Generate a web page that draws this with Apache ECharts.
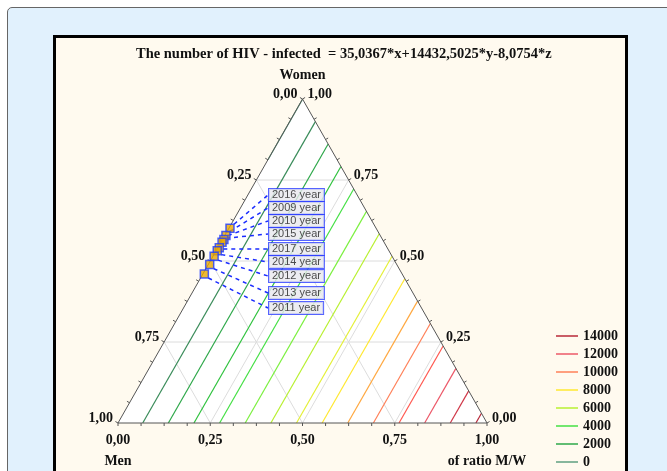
<!DOCTYPE html>
<html>
<head>
<meta charset="utf-8">
<script src="https://cdn.jsdelivr.net/npm/echarts@6/dist/echarts.min.js"></script>
<style>
html, body { margin: 0; padding: 0; width: 667px; height: 471px; overflow: hidden; background: #fff; }
.outer { position: absolute; left: 7px; top: 7px; width: 720px; height: 520px; background: #e1f1fd; border: 1.5px solid #666; border-radius: 5px; }
.inner { position: absolute; left: 53px; top: 35px; width: 569px; height: 500px; background: #fffaef; border: 3px solid #000; }
#chart { position: absolute; left: 0; top: 0; width: 667px; height: 471px; }
</style>
</head>
<body>
<div class="outer"></div>
<div class="inner"></div>
<div id="chart"></div>
<script>
// points (ternary: women share, ratio M/W share; men = 1 - women - ratio)
const years = ["2016 year", "2009 year", "2010 year", "2015 year", "2017 year", "2014 year", "2012 year", "2013 year", "2011 year"];
const women = [0.601, 0.579, 0.566, 0.558, 0.541, 0.532, 0.515, 0.489, 0.460];
const ratioMW = [0.003, 0.003, 0.004, 0.003, 0.004, 0.003, 0.003, 0.004, 0.004];
// title equation: 35,0367*x + 14432,5025*y - 8,0754*z  (x = men, y = ratio M/W, z = women)
const coefMen = 35.0367;
const coefRatio = 14432.5025;
const coefWomen = -8.0754;
// contour levels
const levels = [0, 1000, 2000, 3000, 4000, 5000, 6000, 7000, 8000, 9000, 10000, 11000, 12000, 13000, 14000];
const legendLevels = ["14000", "12000", "10000", "8000", "6000", "4000", "2000", "0"];
// axis ticks
const majorTicks = [0, 0.25, 0.5, 0.75, 1];
const tickLabels = ["0,00", "0,25", "0,50", "0,75", "1,00"];
const minorTicks = [0, 0.0625, 0.125, 0.1875, 0.25, 0.3125, 0.375, 0.4375, 0.5, 0.5625, 0.625, 0.6875, 0.75, 0.8125, 0.875, 0.9375, 1];

const levelColors = ["#5f9f80", "#3a8c5a", "#2ea84a", "#2fc23e", "#44e044", "#7cf040", "#b8f030", "#e4f038", "#ffe830",
  "#ffa840", "#ff8058", "#ff5850", "#ec5868", "#d03848", "#b82838"];
const labelY = [195, 208, 221, 234, 249, 262, 276, 293, 308];

// ternary (ratio, women) -> plane coords
const toXY = (r, w) => [r + w / 2, w];

// contour of the linear surface clipped to the triangle
function contour(c) {
  const pts = [];
  const rb = (c - coefMen) / (coefRatio - coefMen); // bottom edge, women = 0
  if (rb >= 0 && rb <= 1) pts.push(toXY(rb, 0));
  const wl = (c - coefMen) / (coefWomen - coefMen); // left edge, ratio = 0
  if (wl >= 0 && wl <= 1) pts.push(toXY(0, wl));
  const rr = (c - coefWomen) / (coefRatio - coefWomen); // right edge, men = 0
  if (rr >= 0 && rr <= 1) pts.push(toXY(rr, 1 - rr));
  return pts.length >= 2 ? pts.slice(0, 2) : [];
}

const gridSeries = [];
[0.25, 0.5, 0.75].forEach((t) => {
  gridSeries.push([toXY(0, t), toXY(1 - t, t)]);
  gridSeries.push([toXY(t, 0), toXY(t, 1 - t)]);
  gridSeries.push([toXY(1 - t, 0), toXY(0, 1 - t)]);
});

const serif = '"Liberation Serif", "Times New Roman", serif';
const axisLabels = [];
majorTicks.forEach((t, i) => {
  axisLabels.push({ pos: toXY(t, 0), text: tickLabels[i], dx: 0, dy: 17, align: "center" });
  axisLabels.push({ pos: toXY(1 - t, t), text: tickLabels[i], dx: 5, dy: -5, align: "left" });
  axisLabels.push({ pos: toXY(0, 1 - t), text: tickLabels[i], dx: -5, dy: -5, align: "right" });
});
axisLabels.push({ pos: toXY(0, 1), text: "Women", dx: 0, dy: -24, align: "center" });
axisLabels.push({ pos: toXY(0, 0), text: "Men", dx: 0, dy: 38, align: "center" });
axisLabels.push({ pos: toXY(1, 0), text: "of ratio M/W", dx: 0, dy: 38, align: "center" });

const tickMarks = [];
minorTicks.forEach((t) => {
  tickMarks.push([...toXY(t, 0), 0, 1]);
  tickMarks.push([...toXY(1 - t, t), 0.866, -0.5]);
  tickMarks.push([...toXY(0, 1 - t), -0.866, -0.5]);
});

const chart = echarts.init(document.getElementById("chart"));

const series = [
  {
    type: "custom", z: 1, silent: true,
    data: [[0, 0]],
    renderItem: (params, api) => ({
      type: "polygon",
      shape: { points: [api.coord([0, 0]), api.coord([1, 0]), api.coord([0.5, 1])] },
      style: { fill: "#fff" },
    }),
  },
];
gridSeries.forEach((seg) => {
  series.push({
    type: "line", z: 2, silent: true, symbol: "none", data: seg,
    lineStyle: { color: "#dcdcdc", width: 1 },
  });
});
levels.forEach((c, i) => {
  series.push({
    name: String(c), type: "line", z: 3, silent: true, symbol: "none",
    data: contour(c),
    itemStyle: { color: levelColors[i] },
    lineStyle: { color: levelColors[i], width: 1.2 },
  });
});
series.push({
  type: "custom", z: 4, silent: true,
  data: [[0, 0]],
  renderItem: (params, api) => ({
    type: "polygon",
    shape: { points: [api.coord([0, 0]), api.coord([1, 0]), api.coord([0.5, 1])] },
    style: { fill: "none", stroke: "#555", lineWidth: 1 },
  }),
});
series.push({
  type: "custom", z: 4, silent: true,
  data: tickMarks,
  renderItem: (params, api) => {
    const p = api.coord([api.value(0), api.value(1)]);
    return {
      type: "line",
      shape: { x1: p[0], y1: p[1], x2: p[0] + api.value(2) * 3, y2: p[1] + api.value(3) * 3 },
      style: { stroke: "#555", lineWidth: 1 },
    };
  },
});
series.push({
  type: "custom", z: 5, silent: true,
  data: axisLabels.map((l, i) => [l.pos[0], l.pos[1], i]),
  renderItem: (params, api) => {
    const l = axisLabels[api.value(2)];
    const p = api.coord([api.value(0), api.value(1)]);
    return {
      type: "text", x: p[0] + l.dx, y: p[1] + l.dy,
      style: { text: l.text, align: l.align, verticalAlign: "middle", font: "bold 14px " + serif, fill: "#111" },
    };
  },
});
series.push({
  type: "scatter", z: 10, silent: true,
  symbol: "rect", symbolSize: 8,
  data: years.map((y, i) => ({ name: y, value: toXY(ratioMW[i], women[i]) })),
  itemStyle: { color: "#eaa800", borderColor: "#1f3cff", borderWidth: 1.5 },
  label: {
    show: true, formatter: "{b}",
    fontFamily: '"Liberation Sans", Arial, sans-serif', fontSize: 11, color: "#222",
    backgroundColor: "#e8e8ee", borderColor: "#2a3cff", borderWidth: 1, padding: [1, 3, 0, 3],
  },
  labelLayout: (params) => ({ x: 269, y: labelY[params.dataIndex], align: "left", verticalAlign: "middle" }),
  labelLine: { show: true, lineStyle: { color: "#1a2cff", type: [4, 4], width: 1.5 } },
});

chart.setOption({
  animation: false,
  title: {
    text: "The number of HIV - infected  = 35,0367*x+14432,5025*y-8,0754*z",
    left: 131, top: 42,
    textStyle: { fontFamily: serif, fontWeight: "bold", fontSize: 14.5, color: "#111" },
  },
  grid: { left: 118, right: 180, top: 99, bottom: 48 },
  xAxis: { type: "value", min: 0, max: 1, show: false },
  yAxis: { type: "value", min: 0, max: 1, show: false },
  legend: {
    data: legendLevels, orient: "vertical", left: 551, top: 324, height: 150,
    icon: "rect", itemWidth: 22, itemHeight: 1.5, itemGap: 4, selectedMode: false,
    textStyle: { fontFamily: serif, fontWeight: "bold", fontSize: 14, lineHeight: 14, color: "#111" },
  },
  series: series,
});
</script>
</body>
</html>
